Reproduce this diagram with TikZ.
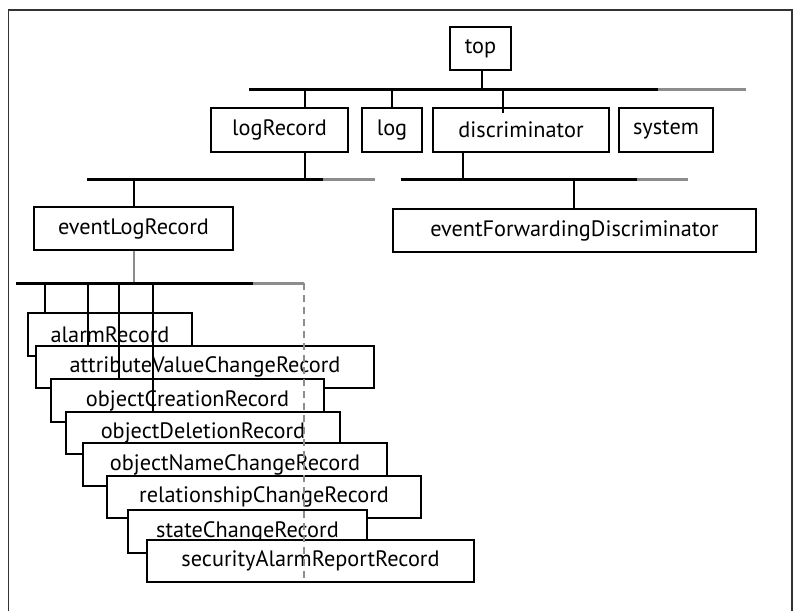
\documentclass[tikz,border=0pt]{standalone}
\usepackage{fontspec}
\setmainfont{PT Sans}
\begin{document}
\begin{tikzpicture}[x=1pt,y=-1pt,
  box/.style={draw=black, line width=2pt, fill=white, inner sep=0pt,
    font=\fontsize{22.3}{26}\selectfont, align=center},
  bus/.style={line width=3pt, black},
  busg/.style={line width=3pt, gray!90},
  vline/.style={line width=2.6pt, black},
  vlineg/.style={line width=2.6pt, gray!90},
  dashg/.style={line width=1.6pt, gray!90, dash pattern=on 7pt off 5pt},
  frame/.style={line width=1.3pt, black!80}]
\useasboundingbox (0,0) rectangle (796,611);
\fill[white] (0,0) rectangle (796,611);
\draw[frame] (8.5,611) -- (8.5,10) -- (792,10) -- (792,611);

% level 1
\node[box, minimum width=61pt, minimum height=43pt] (top) at (480.5,48.5) {top};
\node[box, minimum width=137pt, minimum height=44pt] (logRecord) at (279.5,130) {logRecord};
\node[box, minimum width=60pt, minimum height=44pt] (log) at (392,130) {log};
\node[box, minimum width=176pt, minimum height=44pt] (discriminator) at (521,130) {discriminator};
\node[box, minimum width=94pt, minimum height=44pt] (system) at (666,130) {system};

% level 2
\node[box, minimum width=199pt, minimum height=43pt] (eventLogRecord) at (133.5,228.5) {eventLogRecord};
\node[box, minimum width=363pt, minimum height=43pt] (efd) at (574.5,230.5) {eventForwardingDiscriminator};

% level 3 (stacked)
\node[box, minimum width=164pt, minimum height=43pt] (alarm) at (110,334.5) {alarmRecord};
\node[box, minimum width=338pt, minimum height=42pt] (avc) at (205,367) {attributeValueChangeRecord};
\node[box, minimum width=273pt, minimum height=43pt] (oc) at (187.5,400.5) {objectCreationRecord};
\node[box, minimum width=274pt, minimum height=42pt] (od) at (203,433) {objectDeletionRecord};
\node[box, minimum width=304pt, minimum height=43pt] (onc) at (235,464.5) {objectNameChangeRecord};
\node[box, minimum width=314pt, minimum height=42pt] (rc) at (264,497) {relationshipChangeRecord};
\node[box, minimum width=239pt, minimum height=43pt] (sc) at (247.5,531.5) {stateChangeRecord};
\node[box, minimum width=327pt, minimum height=42pt] (sar) at (310.5,561) {securityAlarmReportRecord};

% bus 1 (under top)
\coordinate (b1l) at (249,89);
\coordinate (b1m) at (658,89);
\coordinate (b1r) at (746,89);
\draw[vline] (top.south -| 482,0) -- (482,89);
\draw[bus] (b1l) -- (b1m);
\draw[busg] (b1m) -- (b1r);
\coordinate (j11) at (305,89);
\coordinate (j12) at (392,89);
\coordinate (j13) at (503,89);
\draw[vline] (j11) -- (j11 |- logRecord.north);
\draw[vline] (j12) -- (j12 |- log.north);
\draw[vline] (j13) -- (503,113);

% bus 2 left (under logRecord)
\coordinate (b2l) at (87,179);
\coordinate (b2m) at (323,179);
\coordinate (b2r) at (375,179);
\draw[vline] (logRecord.south -| 305,0) -- (305,179);
\draw[bus] (b2l) -- (b2m);
\draw[busg] (b2m) -- (b2r);
\coordinate (j21) at (134,179);
\draw[vline] (j21) -- (j21 |- eventLogRecord.north);

% bus 2 right (under discriminator)
\coordinate (b3l) at (401,179);
\coordinate (b3m) at (637,179);
\coordinate (b3r) at (688,179);
\draw[vline] (discriminator.south -| 463,0) -- (463,179);
\draw[bus] (b3l) -- (b3m);
\draw[busg] (b3m) -- (b3r);
\coordinate (j31) at (574,179);
\draw[vline] (j31) -- (j31 |- efd.north);

% bus 3 (under eventLogRecord)
\coordinate (b4l) at (16,283);
\coordinate (b4m) at (253,283);
\coordinate (b4r) at (304,283);
\coordinate (b4e) at (304,582);
\draw[vlineg] (eventLogRecord.south -| 134,0) -- (134,283);
\draw[bus] (b4l) -- (b4m);
\draw[busg] (b4m) -- (b4r);
\draw[dashg] (b4r) -- (b4e);
\coordinate (j41) at (45,283);
\coordinate (j42) at (88,283);
\coordinate (j43) at (119,283);
\coordinate (j44) at (153,283);
\draw[vline] (j41) -- (j41 |- alarm.north);
\draw[vline] (j42) -- (j42 |- avc.north);
\draw[vline] (j43) -- (j43 |- oc.north);
\draw[vline] (j44) -- (j44 |- od.north);
\end{tikzpicture}
\end{document}
